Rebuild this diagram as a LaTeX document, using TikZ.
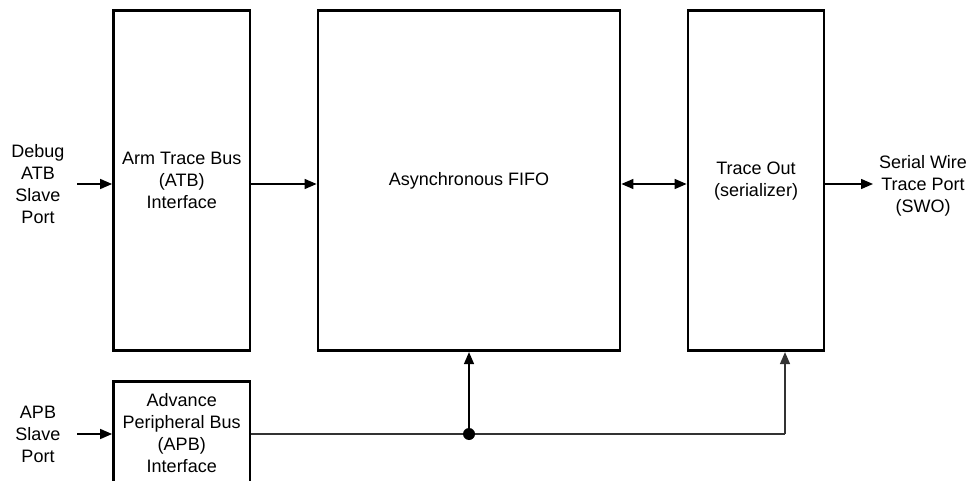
\documentclass[tikz,border=0pt]{standalone}
\usepackage{fontspec}
\setmainfont{Liberation Sans}
\usetikzlibrary{arrows.meta}
\begin{document}
\begin{tikzpicture}[x=1pt,y=-1pt,
  txt/.style={font=\fontsize{18}{22}\selectfont,align=center},
  blk/.style={txt,draw,line width=2.8pt,inner sep=0pt},
  lbl/.style={txt,inner sep=0pt},
  tip/.style={Triangle[length=12pt,width=10pt]},
  conn/.style={line width=1.4pt,-{Triangle[length=12pt,width=10pt]}},
  conn2/.style={line width=1.4pt,{Triangle[length=12pt,width=10pt]}-{Triangle[length=12pt,width=10pt]}},
  bus/.style={line width=1.4pt,draw=black!80}]
\useasboundingbox (0,0) rectangle (974,481);
\clip (0,0) rectangle (974,481);
% blocks
\node[blk,minimum width=136.5pt,minimum height=340pt] (atb) at (181.75,180.7) {Arm Trace Bus\\(ATB)\\Interface};
\node[blk,minimum width=302pt,minimum height=340pt] (fifo) at (469,180.7) {Asynchronous FIFO};
\node[blk,minimum width=136pt,minimum height=340pt] (trace) at (756,180.7) {Trace Out\\(serializer)};
\node[blk,minimum width=136.5pt,minimum height=103.3pt] (apb) at (181.75,433.3) {Advance\\Peripheral Bus\\(APB)\\Interface};
% labels
\node[lbl] (dbg) at (38,184) {Debug\\ATB\\Slave\\Port};
\node[lbl] (swo) at (923,186) {Serial Wire\\Trace Port\\(SWO)};
\node[lbl] (apbp) at (38,434) {APB\\Slave\\Port};
% coordinates
\coordinate (dbgin) at (77,184);
\coordinate (swoin) at (873,184);
\coordinate (apbin) at (77,434);
\coordinate (jn) at (469,434);
\coordinate (tap) at (785,434);
% connectors
\draw[conn] (dbgin) -- (atb.west |- dbgin);
\draw[conn] (atb.east |- dbgin) -- (fifo.west |- dbgin);
\draw[conn2] (fifo.east |- dbgin) -- (trace.west |- dbgin);
\draw[conn] (trace.east |- dbgin) -- (swoin);
\draw[conn] (apbin) -- (apb.west |- apbin);
\draw[bus] (apb.east |- apbin) -- (tap);
\draw[conn,draw=black!80] (tap) -- (tap |- trace.south);
\draw[conn] (jn) -- (fifo.south);
\fill (jn) circle[radius=6pt];
\end{tikzpicture}
\end{document}
